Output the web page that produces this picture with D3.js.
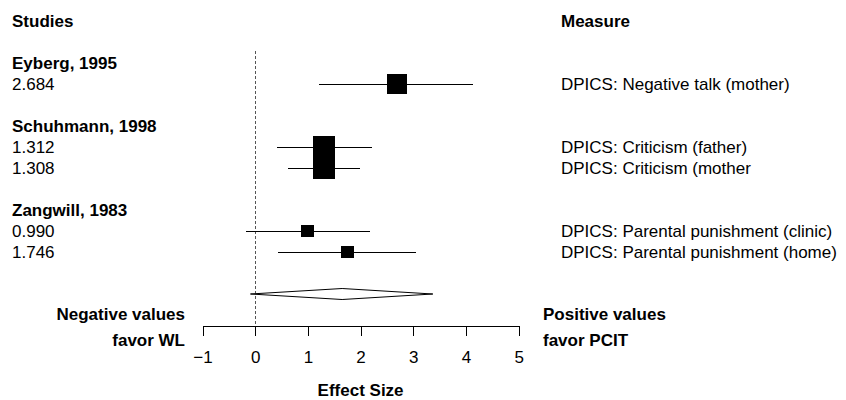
<!DOCTYPE html>
<meta charset="utf-8">
<script src="https://d3js.org/d3.v7.min.js"></script>
<style>
    body { margin: 0; background: #fff; }
    text { font-family: 'Liberation Sans', Arial, Helvetica, sans-serif; font-size: 17px; fill: #000; }
    .bold { font-weight: bold; }
    line, rect, .domain { shape-rendering: crispEdges; }
</style>
<div id="chart"></div>
<script>
    // studies and the effect sizes reported by each
    let studies = ["Eyberg, 1995", "Schuhmann, 1998", "Zangwill, 1983"];
    let studyOf = [0, 1, 1, 2, 2];
    let effects = [2.684, 1.312, 1.308, 0.990, 1.746];
    let ciLower = [1.21, 0.42, 0.63, -0.18, 0.43];
    let ciUpper = [4.14, 2.22, 1.98, 2.17, 3.06];
    let weights = [0.91, 1.0, 1.0, 0.59, 0.59];   // relative weight -> box size
    let measures = [
        "DPICS: Negative talk (mother)",
        "DPICS: Criticism (father)",
        "DPICS: Criticism (mother",
        "DPICS: Parental punishment (clinic)",
        "DPICS: Parental punishment (home)"
    ];
    let summaryEstimate = 1.65;
    let summaryCI = [-0.09, 3.37];
    let xTicks = [-1, 0, 1, 2, 3, 4, 5];

    let width = 846, height = 400;

    let svg = d3.select("#chart")
        .append("svg")
        .attr("width", width)
        .attr("height", height);

    // work out which row every line of the plot sits on
    let headingRows = [];
    let effectRows = [];
    let r = 2;
    studies.forEach(function (s, k) {
        headingRows.push(r);
        r++;
        studyOf.forEach(function (st, i) {
            if (st === k) {
                effectRows[i] = r;
                r++;
            }
        });
        r++;
    });
    let summaryRow = r;

    let x = d3.scaleLinear()
        .domain([-1, 5])
        .range([202.5, 518.7]);

    let y = d3.scaleLinear()
        .domain([0, summaryRow])
        .range([21, 294]);

    let boxSize = d3.scaleLinear()
        .domain([0, 1])
        .range([0, 22]);

    let axisY = 326;

    // reference line at zero
    svg.append("line")
        .attr("x1", x(0)).attr("x2", x(0))
        .attr("y1", 51).attr("y2", axisY + 10)
        .attr("stroke", "#555")
        .attr("stroke-width", 1)
        .attr("stroke-dasharray", "3,2");

    // headers
    svg.append("text").attr("class", "bold")
        .attr("x", 12).attr("y", y(0)).attr("dy", "0.35em")
        .text("Studies");
    svg.append("text").attr("class", "bold")
        .attr("x", 561).attr("y", y(0)).attr("dy", "0.35em")
        .text("Measure");

    svg.selectAll(".study")
        .data(studies)
        .enter()
        .append("text")
        .attr("class", "study bold")
        .attr("x", 12)
        .attr("y", function (d, i) { return y(headingRows[i]); })
        .attr("dy", "0.35em")
        .text(function (d) { return d; });

    svg.selectAll(".effect-label")
        .data(effects)
        .enter()
        .append("text")
        .attr("class", "effect-label")
        .attr("x", 12)
        .attr("y", function (d, i) { return y(effectRows[i]); })
        .attr("dy", "0.35em")
        .text(function (d) { return d3.format(".3f")(d); });

    svg.selectAll(".measure")
        .data(measures)
        .enter()
        .append("text")
        .attr("class", "measure")
        .attr("x", 561)
        .attr("y", function (d, i) { return y(effectRows[i]); })
        .attr("dy", "0.35em")
        .text(function (d) { return d; });

    // confidence intervals
    svg.selectAll(".ci")
        .data(effects)
        .enter()
        .append("line")
        .attr("class", "ci")
        .attr("x1", function (d, i) { return x(ciLower[i]); })
        .attr("x2", function (d, i) { return x(ciUpper[i]); })
        .attr("y1", function (d, i) { return y(effectRows[i]); })
        .attr("y2", function (d, i) { return y(effectRows[i]); })
        .attr("stroke", "#000")
        .attr("stroke-width", 1);

    // boxes sized by weight
    svg.selectAll(".box")
        .data(effects)
        .enter()
        .append("rect")
        .attr("class", "box")
        .attr("x", function (d, i) { return x(d) - boxSize(weights[i]) / 2; })
        .attr("y", function (d, i) { return y(effectRows[i]) - boxSize(weights[i]) / 2; })
        .attr("width", function (d, i) { return boxSize(weights[i]); })
        .attr("height", function (d, i) { return boxSize(weights[i]); })
        .attr("fill", "#000");

    // summary diamond
    let sy = y(summaryRow);
    svg.append("polygon")
        .attr("points", [
            [x(summaryCI[0]), sy],
            [x(summaryEstimate), sy - 5.5],
            [x(summaryCI[1]), sy],
            [x(summaryEstimate), sy + 5.5]
        ].map(function (p) { return p.join(","); }).join(" "))
        .attr("fill", "#fff")
        .attr("stroke", "#000")
        .attr("stroke-width", 1);

    // x axis
    let axis = svg.append("g")
        .attr("transform", "translate(0," + axisY + ")")
        .call(d3.axisBottom(x)
            .tickValues(xTicks)
            .tickFormat(d3.format("d"))
            .tickSize(10)
            .tickPadding(15)
            .tickSizeOuter(0));
    axis.select(".domain").attr("stroke", "#000");
    axis.selectAll(".tick line").attr("stroke", "#000");
    axis.selectAll(".tick text")
        .style("font-family", "'Liberation Sans', Arial, Helvetica, sans-serif")
        .style("font-size", "17px")
        .attr("fill", "#000");

    svg.append("text").attr("class", "bold")
        .attr("x", (x(-1) + x(5)) / 2).attr("y", 390).attr("dy", "0.35em")
        .attr("text-anchor", "middle")
        .text("Effect Size");

    svg.append("text").attr("class", "bold")
        .attr("x", 185).attr("y", 314).attr("dy", "0.35em")
        .attr("text-anchor", "end")
        .text("Negative values");
    svg.append("text").attr("class", "bold")
        .attr("x", 185).attr("y", 340).attr("dy", "0.35em")
        .attr("text-anchor", "end")
        .text("favor WL");
    svg.append("text").attr("class", "bold")
        .attr("x", 543).attr("y", 314).attr("dy", "0.35em")
        .text("Positive values");
    svg.append("text").attr("class", "bold")
        .attr("x", 543).attr("y", 340).attr("dy", "0.35em")
        .text("favor PCIT");
</script>
